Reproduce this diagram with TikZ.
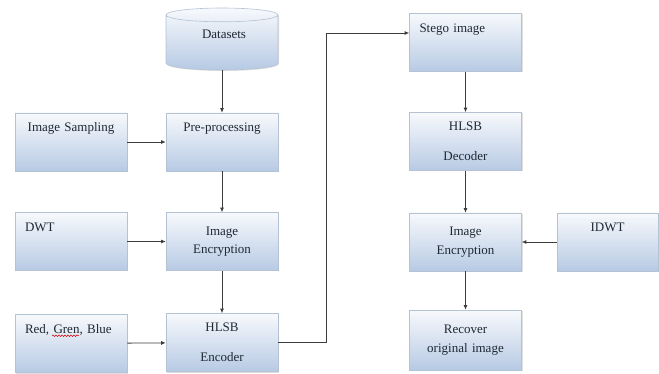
\documentclass[tikz,border=0pt]{standalone}
\usepackage{fontspec}
\setmainfont{Liberation Serif}
\usetikzlibrary{shapes.geometric,arrows.meta,shadows,decorations.pathmorphing}

\definecolor{boxline}{HTML}{B4C2D4}
\definecolor{boxtop}{HTML}{F7F9FC}
\definecolor{boxbottom}{HTML}{B7CAE4}
\definecolor{flowline}{HTML}{3C3C3C}
\definecolor{labeltext}{HTML}{1F2833}

\tikzset{
  block/.style={draw=boxline, line width=0.6pt, top color=boxtop, bottom color=boxbottom,
    minimum width=112pt, minimum height=58pt, text width=92pt, inner xsep=10pt,
    align=center, text=labeltext, font=\fontsize{13}{15.6}\selectfont,
    drop shadow={opacity=0.25, shadow xshift=1pt, shadow yshift=-1pt}},
  topline/.style={text height=10pt, text depth=30pt, inner ysep=9pt},
  flow/.style={draw=flowline, line width=0.8pt, -{Latex[length=4.5pt,width=4pt]}},
  spellwave/.style={draw=red!80!black, line width=0.5pt, decorate,
    decoration={snake, amplitude=0.8pt, segment length=3pt}}
}

\begin{document}
\begin{tikzpicture}[x=1pt, y=-1pt]
  \useasboundingbox (0,0) rectangle (659,374);

  % source and encoding side
  \node[block, shape=cylinder, shape border rotate=90, aspect=0.3, anchor=shape center,
        text width=40pt, inner sep=3pt, text height=9pt, text depth=19pt,
        minimum width=112pt, minimum height=62pt] (data) at (222,39) {Datasets};
  \node[block, topline] (samp) at (71,142) {Image Sampling};
  \node[block, topline] (pre) at (222,142) {Pre-processing};
  \node[block, topline, align=left] (dwt) at (71,241.5) {DWT};
  \node[block] (enc1) at (222,241.5) {Image\\[3pt]Encryption};
  \node[block, topline, align=left, minimum height=57pt] (rgb) at (71,343.5) {Red, Gren, Blue};
  \node[block] (hlsbE) at (222,342.5) {HLSB\\[14pt]Encoder};

  % spell-check mark under "Gren"
  \draw[spellwave] ([xshift=37.4pt, yshift=-21.5pt]rgb.north west) -- ++(27,0);

  % decoding side
  \node[block, topline, align=left] (stego) at (465.5,42.5) {Stego image};
  \node[block] (hlsbD) at (465.5,141.5) {HLSB\\[14pt]Decoder};
  \node[block] (enc2) at (465.5,242) {Image\\[3pt]Encryption};
  \node[block, topline, minimum width=101pt, text width=81pt] (idwt) at (607.5,242) {IDWT};
  \node[block, minimum height=60pt] (rec) at (465.5,340) {Recover\\[3pt]original image};

  \draw[flow] (data) -- (pre);
  \draw[flow] (samp) -- (pre);
  \draw[flow] (pre) -- (enc1);
  \draw[flow] (dwt) -- (enc1);
  \draw[flow] (enc1) -- (hlsbE);
  \draw[flow] (rgb) -- (hlsbE);
  \draw[flow] (hlsbE.east) -- ++(48,0) |- ([yshift=9.5pt]stego.west);
  \draw[flow] (stego) -- (hlsbD);
  \draw[flow] (hlsbD) -- (enc2);
  \draw[flow] (idwt) -- (enc2);
  \draw[flow] (enc2) -- (rec);
\end{tikzpicture}
\end{document}
